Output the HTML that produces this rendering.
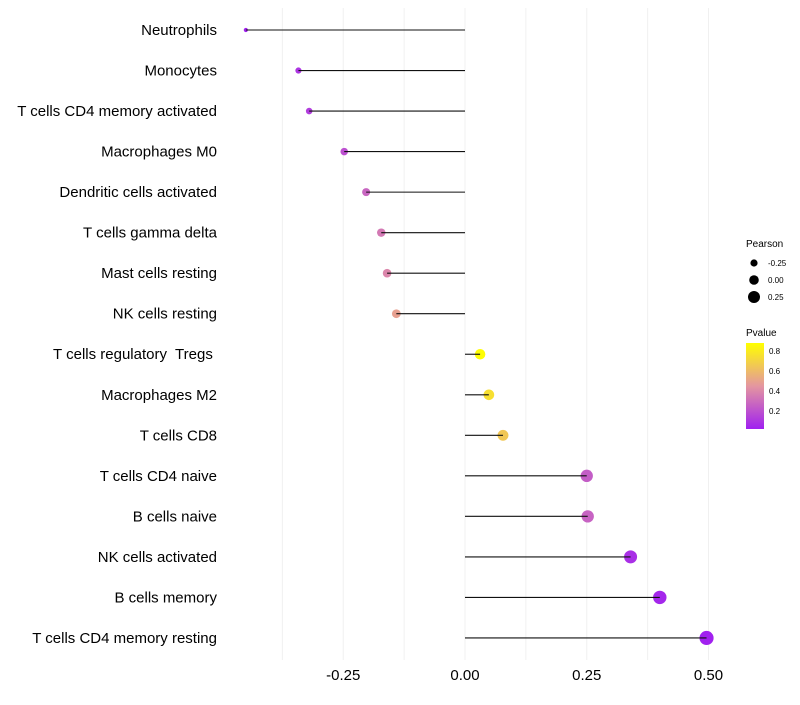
<!DOCTYPE html>
<html><head><meta charset="utf-8"><style>body{margin:0;background:#fff}svg text{font-family:"Liberation Sans",sans-serif;white-space:pre}</style></head>
<body>
<svg id="c" width="800" height="700">
<defs><linearGradient id="pg" x1="0" y1="1" x2="0" y2="0"><stop offset="0" stop-color="#a020f0"/><stop offset="0.5" stop-color="#e496a0"/><stop offset="1" stop-color="#ffff00"/></linearGradient></defs>
<g id="grid"></g><g id="dots"></g><g id="stems"></g><g id="ylab"></g><g id="xlab"></g>
<g>
<text x="746" y="247" font-size="10">Pearson</text>
<circle cx="754" cy="263" r="3.6"/><text x="768" y="266" font-size="8">-0.25</text>
<circle cx="754" cy="280" r="4.8"/><text x="768" y="283" font-size="8">0.00</text>
<circle cx="754" cy="297" r="6"/><text x="768" y="300" font-size="8">0.25</text>
<text x="746" y="336" font-size="10">Pvalue</text>
<rect x="746" y="343" width="18" height="86" fill="url(#pg)"/>
<text x="769" y="354" font-size="8">0.8</text><text x="769" y="374" font-size="8">0.6</text>
<text x="769" y="394" font-size="8">0.4</text><text x="769" y="414" font-size="8">0.2</text>
</g>
</svg>
<script>
const cells=["Neutrophils","Monocytes","T cells CD4 memory activated","Macrophages M0","Dendritic cells activated","T cells gamma delta","Mast cells resting","NK cells resting","T cells regulatory  Tregs ","Macrophages M2","T cells CD8","T cells CD4 naive","B cells naive","NK cells activated","B cells memory","T cells CD4 memory resting"];
const pearson=[-0.45,-0.342,-0.32,-0.248,-0.203,-0.172,-0.16,-0.141,0.031,0.049,0.078,0.25,0.252,0.34,0.40,0.496];
const pvalue=[0.03,0.1,0.13,0.2,0.28,0.35,0.4,0.5,0.88,0.76,0.66,0.25,0.27,0.08,0.05,0.03];
const xticks=[-0.25,0,0.25,0.5];
const xtickLabels=["-0.25","0.00","0.25","0.50"];
const NS="http://www.w3.org/2000/svg";
const X=v=>465+v*487, Y=i=>30+i*40.53;
function mk(t,a,p){const e=document.createElementNS(NS,t);for(const k in a)e.setAttribute(k,a[k]);p.appendChild(e);return e;}
function lerp(a,b,t){return a.map((v,i)=>Math.round(v+(b[i]-v)*t));}
function col(p){let t=Math.max(0,Math.min(1,(p-0.025)/(0.89-0.025)));const A=[160,32,240],B=[228,150,160],C=[255,255,0];const c=t<0.5?lerp(A,B,t*2):lerp(B,C,(t-0.5)*2);return `rgb(${c})`;}
const g=document.getElementById('grid');
[-0.375,-0.25,-0.125,0,0.125,0.25,0.375,0.5].forEach(v=>{const l=mk('line',{x1:X(v),x2:X(v),y1:8,y2:660,stroke:'#f0f0f0','stroke-width':1},g);

});
const dg=document.getElementById('dots'),sg=document.getElementById('stems'),yl=document.getElementById('ylab'),xl=document.getElementById('xlab');
cells.forEach((c,i)=>{
const d=mk('circle',{cx:X(pearson[i]),cy:Y(i),r:Math.sqrt(Math.max(1,26+48*pearson[i])),fill:col(pvalue[i])},dg);


const s=mk('line',{x1:X(0),x2:X(pearson[i]),y1:Y(i),y2:Y(i),stroke:'#111','stroke-width':1.1},sg);


const t=mk('text',{x:217,y:Y(i)+5,'text-anchor':'end','font-size':15,fill:'#000'},yl);t.textContent=c;


});
xticks.forEach((v,i)=>{const t=mk('text',{x:X(v),y:680,'text-anchor':'middle','font-size':15},xl);t.textContent=xtickLabels[i];

});
</script>
</body></html>
